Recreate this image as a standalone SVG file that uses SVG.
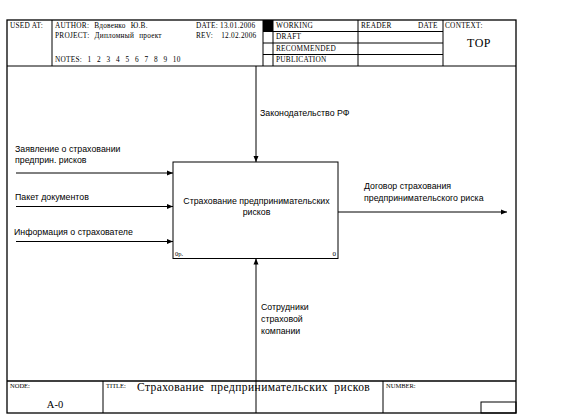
<svg xmlns="http://www.w3.org/2000/svg" width="573" height="420" viewBox="0 0 573 420">
<defs>
<marker id="ah" viewBox="0 0 6 6" refX="6" refY="3" markerWidth="6" markerHeight="6" markerUnits="userSpaceOnUse" orient="auto">
<path d="M0,0.5 L6,3 L0,5.5 Z" fill="#000"/>
</marker>
<style>
.ln{stroke:#000;stroke-width:1;fill:none}
.fr{stroke:#000;stroke-width:1.3;fill:none}
.hd{font-family:"Liberation Serif",serif;font-size:7.3px;letter-spacing:0.25px;fill:#000}
.lb{font-family:"Liberation Sans",Arial,sans-serif;font-size:8.8px;fill:#000}
.ar{stroke:#000;stroke-width:1;fill:none;marker-end:url(#ah)}
</style>
</defs>
<rect width="573" height="420" fill="#fff"/>
<g id="frame">
<rect class="fr" x="7" y="20" width="509" height="393"/>
<line class="ln" x1="7" y1="66" x2="516" y2="66"/>
<line class="ln" x1="52" y1="20" x2="52" y2="66"/>
<line class="ln" x1="263" y1="20" x2="263" y2="66"/>
<line class="ln" x1="273" y1="20" x2="273" y2="66"/>
<line class="ln" x1="358" y1="20" x2="358" y2="66"/>
<line class="ln" x1="443" y1="20" x2="443" y2="66"/>
<line class="ln" x1="263" y1="31.5" x2="443" y2="31.5"/>
<line class="ln" x1="263" y1="43" x2="443" y2="43"/>
<line class="ln" x1="263" y1="54.5" x2="443" y2="54.5"/>
<rect x="263" y="20" width="10" height="11.5" fill="#000"/>
<text class="hd" x="10" y="28">USED AT:</text>
<text class="hd" x="55" y="28" style="word-spacing:3px">AUTHOR: Вдовенко Ю.В.</text>
<text class="hd" x="55" y="38" style="word-spacing:3px">PROJECT: Дипломный проект</text>
<text class="hd" x="55" y="62" style="word-spacing:3.5px">NOTES: 1 2 3 4 5 6 7 8 9 10</text>
<text class="hd" x="196" y="28">DATE: 13.01.2006</text>
<text class="hd" x="196" y="38" style="word-spacing:6px">REV: 12.02.2006</text>
<text class="hd" x="276" y="28">WORKING</text>
<text class="hd" x="276" y="39">DRAFT</text>
<text class="hd" x="276" y="51">RECOMMENDED</text>
<text class="hd" x="276" y="62">PUBLICATION</text>
<text class="hd" x="361" y="28">READER</text>
<text class="hd" x="418" y="28">DATE</text>
<text class="hd" x="445" y="28">CONTEXT:</text>
<text x="479" y="47" text-anchor="middle" style="font-family:'Liberation Serif',serif;font-size:12px;letter-spacing:0.5px">TOP</text>
<line class="fr" x1="7" y1="381" x2="516" y2="381"/>
<line class="ln" x1="103" y1="381" x2="103" y2="413"/>
<line class="ln" x1="383" y1="381" x2="383" y2="413"/>
<rect class="ln" x="481" y="402" width="35" height="11"/>
<text x="10" y="388" style="font-family:'Liberation Serif',serif;font-size:6.5px">NODE:</text>
<text x="55" y="408" text-anchor="middle" style="font-family:'Liberation Serif',serif;font-size:10.5px">A-0</text>
<text x="106" y="388" style="font-family:'Liberation Serif',serif;font-size:6.5px">TITLE:</text>
<text x="137" y="391" style="font-family:'Liberation Serif',serif;font-size:11.5px;letter-spacing:0.45px;word-spacing:3px">Страхование предпринимательских рисков</text>
<text x="386" y="388" style="font-family:'Liberation Serif',serif;font-size:6.5px">NUMBER:</text>
</g>
<g id="A0">
<rect class="ln" x="173" y="162" width="165" height="96.5" fill="#fff"/>
<text class="lb" x="256.5" y="204" text-anchor="middle">Страхование предпринимательских</text>
<text class="lb" x="256.5" y="215" text-anchor="middle">рисков</text>
<text x="175" y="256" style="font-family:'Liberation Serif',serif;font-size:6.5px">0р.</text>
<text x="336" y="256" text-anchor="end" style="font-family:'Liberation Serif',serif;font-size:7px">0</text>
</g>
<g id="connectors">
<line class="ar" x1="16" y1="173" x2="173" y2="173"/>
<line class="ar" x1="16" y1="206.5" x2="173" y2="206.5"/>
<line class="ar" x1="16" y1="241.5" x2="173" y2="241.5"/>
<line class="ar" x1="256" y1="66" x2="256" y2="162"/>
<line class="ar" x1="256" y1="413" x2="256" y2="258.5"/>
<line class="ar" x1="338" y1="212" x2="507" y2="212"/>
<text class="lb" x="15" y="152">Заявление о страховании</text>
<text class="lb" x="15" y="163">предприн. рисков</text>
<text class="lb" x="15" y="200">Пакет документов</text>
<text class="lb" x="14" y="235">Информация о страхователе</text>
<text class="lb" x="260" y="116">Законодательство РФ</text>
<text class="lb" x="261" y="310">Сотрудники</text>
<text class="lb" x="261" y="322">страховой</text>
<text class="lb" x="261" y="334">компании</text>
<text class="lb" x="364" y="189">Договор страхования</text>
<text class="lb" x="364" y="201">предпринимательского риска</text>
</g>
</svg>
